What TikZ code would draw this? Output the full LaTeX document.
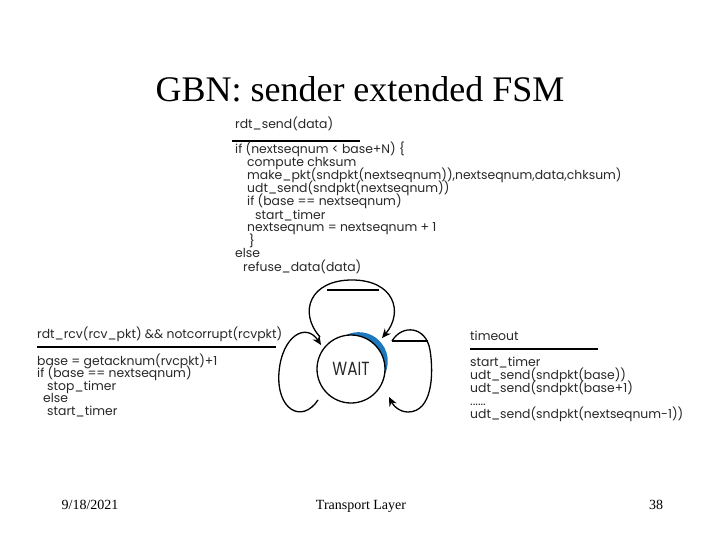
\documentclass[tikz,border=0pt]{standalone}
\usepackage{fontspec}
\setmainfont{Liberation Serif}
\newfontfamily\codefont{Poppins}
\usetikzlibrary{arrows.meta,calc}
\definecolor{codegray}{RGB}{40,40,40}
\definecolor{waitblue}{RGB}{30,120,190}
\begin{document}
\begin{tikzpicture}[x=1pt,y=-1pt,
  code/.style={anchor=base west,inner sep=0pt,text=codegray,font=\codefont\fontsize{12.4}{13}\selectfont},
  rulebar/.style={line width=2pt,draw=black},
  loop/.style={line width=1.3pt,draw=black},
  arr/.style={-{Stealth[length=9pt,width=8pt]}},
  foot/.style={anchor=base,inner sep=0pt,font=\fontsize{14}{16}\selectfont}]
\useasboundingbox (0,0) rectangle (720,540);
\fill[white] (0,0) rectangle (720,540);
% title
\node[anchor=base,inner sep=0pt,font=\fontsize{36}{40}\selectfont] (title) at (360,102) {GBN: sender extended FSM};
% top block
\node[code] (s0) at (235,129) {rdt\_send(data)};
\coordinate (s0a) at (232,141); \coordinate (s0b) at (360,141);
\draw[rulebar] (s0a) -- (s0b);
\node[code] (s1) at (235,154) {if (nextseqnum < base+N) \{};
\node[code] (s2) at (247,167) {compute chksum};
\node[code] (s3) at (247,180) {make\_pkt(sndpkt(nextseqnum)),nextseqnum,data,chksum)};
\node[code] (s4) at (247,193) {udt\_send(sndpkt(nextseqnum))};
\node[code] (s5) at (247,206) {if (base == nextseqnum)};
\node[code] (s6) at (255,219) {start\_timer};
\node[code] (s7) at (247,232) {nextseqnum = nextseqnum + 1};
\node[code] (s8) at (249,245) {\}};
\node[code] (s9) at (235,258) {else};
\node[code] (s10) at (243,271) {refuse\_data(data)};
% left block
\node[code] (l0) at (37,338) {rdt\_rcv(rcv\_pkt) \&\& notcorrupt(rcvpkt)};
\coordinate (l0a) at (37,347); \coordinate (l0b) at (276,347);
\draw[rulebar] (l0a) -- (l0b);
\node[code] (l1) at (37,365) {base = getacknum(rvcpkt)+1};
\node[code] (l2) at (37,377.5) {if (base == nextseqnum)};
\node[code] (l3) at (47,390) {stop\_timer};
\node[code] (l4) at (43,402.5) {else};
\node[code] (l5) at (47,415) {start\_timer};
% right block
\node[code] (r0) at (470,340) {timeout};
\coordinate (r0a) at (470,349); \coordinate (r0b) at (598,349);
\draw[rulebar] (r0a) -- (r0b);
\node[code] (r1) at (470,366) {start\_timer};
\node[code] (r2) at (470,379) {udt\_send(sndpkt(base))};
\node[code] (r3) at (470,392) {udt\_send(sndpkt(base+1)};
\node[code] (r4) at (470,405) {......};
\node[code] (r5) at (470,418) {udt\_send(sndpkt(nextseqnum-1))};
% state
\coordinate (wc) at (351,369);
\fill[waitblue] ($(wc)+(-100:34)$) arc[start angle=-100,end angle=10,radius=34]
  arc[start angle=27.7,end angle=-117.7,radius=29.17] -- cycle;
\node[circle,draw=black,line width=1.3pt,minimum size=68pt,inner sep=0pt,
  font=\codefont\fontsize{19}{20}\selectfont,text=codegray] (wait) at (wc) {\scalebox{0.8}[1]{WAIT}};
% top loop
\coordinate (tA) at (320,337); \coordinate (tB) at (382,338);
\draw[loop,arr] (tA) .. controls (298,312) and (310,280) .. (352,280)
  .. controls (394,280) and (404,312) .. (tB);
\coordinate (tc1) at (327,290); \coordinate (tc2) at (379,290);
\draw[line width=1.1pt] (tc1) -- (tc2);
% right loop
\coordinate (rA) at (392,341); \coordinate (rB) at (389,397);
\coordinate (rc) at (428,341);
\draw[line width=1.1pt] (rA) -- (rc);
\draw[loop,arr] (rA) .. controls (402,324) and (426,326) .. (430,350)
  .. controls (434,375) and (432,412) .. (408,412)
  .. controls (399,412) and (393,405) .. (rB);
% left loop
\coordinate (lA) at (318,400); \coordinate (lB) at (321,345);
\draw[loop,arr] (lA) .. controls (302,424) and (276,410) .. (279,372)
  .. controls (282,336) and (306,322) .. (lB);
% footer
\node[foot] (date) at (90,509) {9/18/2021};
\node[foot] (topic) at (361,509) {Transport Layer};
\node[foot] (page) at (656,509) {38};
\end{tikzpicture}
\end{document}
